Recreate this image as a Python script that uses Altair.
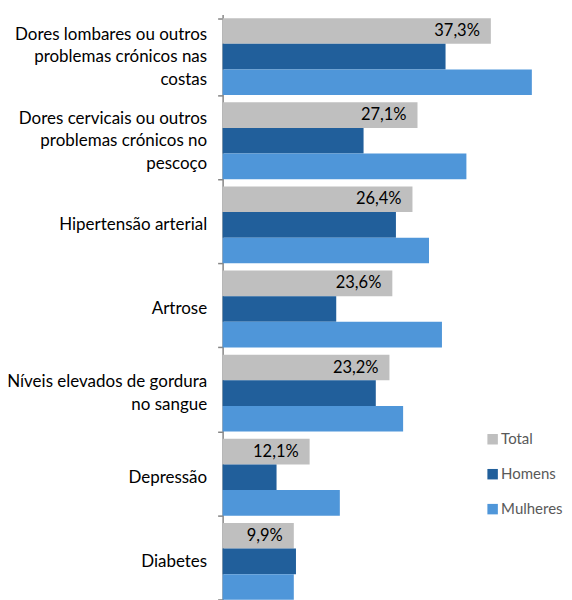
import altair as alt
import pandas as pd

categories = [
    "Dores lombares ou outros|problemas crónicos nas|costas",
    "Dores cervicais ou outros|problemas crónicos no|pescoço",
    "Hipertensão arterial",
    "Artrose",
    "Níveis elevados de gordura|no sangue",
    "Depressão",
    "Diabetes",
]
series = ["Total", "Homens", "Mulheres"]
total = [37.3, 27.1, 26.4, 23.6, 23.2, 12.1, 9.9]
homens = [31.0, 19.6, 24.1, 15.8, 21.3, 7.5, 10.2]
mulheres = [43.0, 33.9, 28.7, 30.5, 25.1, 16.3, 9.9]
colors = ["#BFBFBF", "#215F9B", "#4F96D9"]

rows = []
for i, c in enumerate(categories):
    for s, vals in zip(series, [total, homens, mulheres]):
        v = vals[i]
        rows.append({"cat": c, "series": s, "value": v,
                     "label": f"{v:.1f}".replace(".", ",") + "%"})
df = pd.DataFrame(rows)

FONT = "Lato"
LH = 22.5

label_offset = {
    "condition": [
        {"test": "length(split(datum.value, '|')) == 3", "value": -LH},
        {"test": "length(split(datum.value, '|')) == 2", "value": -LH / 2},
    ],
    "value": 0,
}

y_enc = alt.Y("cat:N", sort=categories,
              scale=alt.Scale(paddingInner=0.087, paddingOuter=0.0435),
              axis=alt.Axis(title=None, labelExpr="split(datum.label, '|')",
                            labelFont=FONT, labelFontSize=17, labelColor="#000000",
                            labelLineHeight=LH, labelPadding=11, labelLimit=300,
                            labelOffset=label_offset,
                            tickBand="extent", tickSize=5, tickColor="#868686",
                            tickWidth=1.5, domainColor="#868686", domainWidth=1.5))
yoff = alt.YOffset("series:N", sort=series,
                   scale=alt.Scale(domain=series, paddingInner=0, paddingOuter=0))
x_enc = alt.X("value:Q", scale=alt.Scale(domain=[0, 46.5], nice=False, zero=True), axis=None)

bars = alt.Chart(df).mark_bar().encode(
    x=x_enc, y=y_enc, yOffset=yoff,
    color=alt.Color("series:N", sort=series,
                    scale=alt.Scale(domain=series, range=colors),
                    legend=alt.Legend(title=None, orient="none", legendX=263, legendY=418,
                                      symbolType="square", symbolSize=110,
                                      symbolStrokeWidth=0, labelFont=FONT,
                                      labelFontSize=15, labelColor="#595959",
                                      labelOffset=1, rowPadding=19)),
)

texts = alt.Chart(df).transform_filter(alt.datum.series == "Total").mark_text(
    align="right", baseline="middle", dx=-11, font=FONT, fontSize=16.5, color="#000000"
).encode(x=x_enc, y=y_enc, yOffset=yoff, text="label:N")

chart = alt.layer(bars, texts).properties(
    width=335, height=590,
    autosize=alt.AutoSizeParams(type="none"),
    padding={"left": 215, "top": 6, "right": 7, "bottom": 0},
).configure_view(stroke=None)

chart.save("out.html", embed_options={"renderer": "svg", "actions": False})
